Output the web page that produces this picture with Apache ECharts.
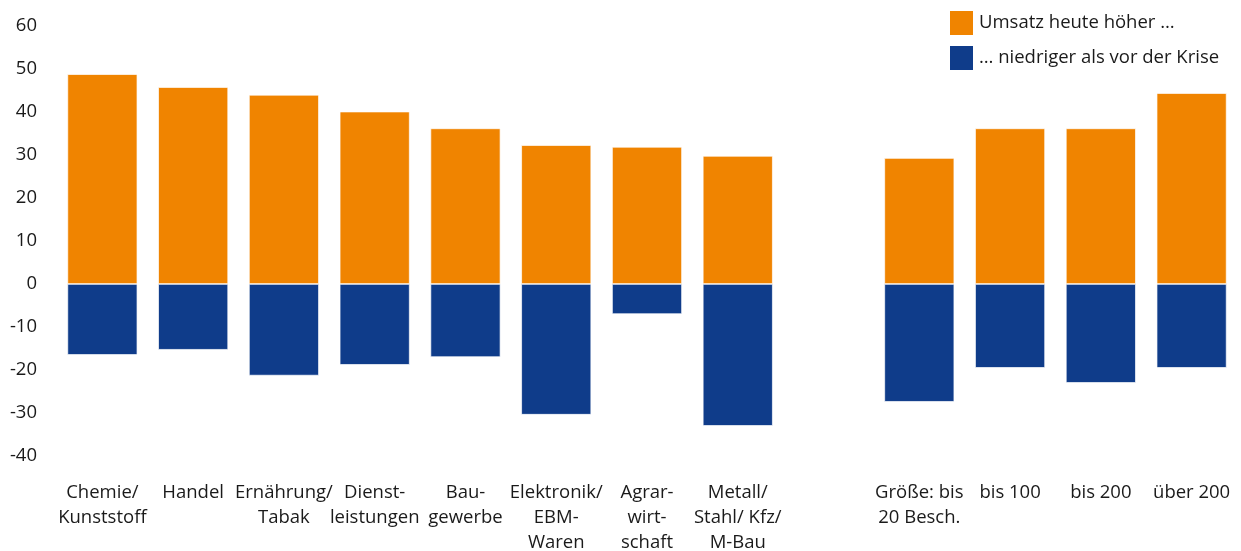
<!DOCTYPE html>
<html><head><meta charset="utf-8">
<script src="https://cdn.jsdelivr.net/npm/echarts@6/dist/echarts.min.js"></script>
<style>html,body{margin:0;padding:0;background:#fff}#c{width:1241px;height:551px}</style>
</head><body><div id="c"></div>
<script>
const categories = ['Chemie/\nKunststoff','Handel','Ernährung/\nTabak','Dienst-\nleistungen','Bau-\ngewerbe','Elektronik/\nEBM-\nWaren','Agrar-\nwirt-\nschaft','Metall/\nStahl/ Kfz/\nM-Bau','','Größe: bis\n20 Besch.','bis 100','bis 200','über 200'];
const higher = [48.8, 45.8, 44.0, 40.1, 36.2, 32.3, 31.9, 29.8, null, 29.3, 36.2, 36.2, 44.4];
const lower = [-16.5, -15.3, -21.3, -18.8, -17.0, -30.4, -7.0, -33.0, null, -27.4, -19.5, -23.0, -19.5];
const seriesNames = ['Umsatz heute höher …', '… niedriger als vor der Krise'];
const yTicks = [-40, 60, 10];

const font = '"Open Sans", "Noto Sans", sans-serif';
const fs = 18.5;
const chart = echarts.init(document.getElementById('c'), null, {renderer:'canvas'});
chart.setOption({
  animation: false,
  grid: {left: 57, right: 4, top: 26, bottom: 95, outerBoundsMode: 'none', containLabel: false},
  legend: {
    orient: 'vertical', left: 948, top: 9, padding: 0,
    itemWidth: 25, itemHeight: 26, itemGap: 7,
    icon: 'rect',
    textStyle: {fontFamily: font, fontSize: fs, color: '#1a1a1a'},
    data: seriesNames
  },
  xAxis: {
    type: 'category', data: categories,
    axisLine: {show: false}, axisTick: {show: false},
    axisLabel: {interval: 0, margin: 24, fontFamily: font, fontSize: fs, color: '#1a1a1a', lineHeight: 25, verticalAlign: 'top'}
  },
  yAxis: {
    type: 'value', min: yTicks[0], max: yTicks[1], interval: yTicks[2],
    splitLine: {show: false}, axisLine: {show: false}, axisTick: {show: false},
    axisLabel: {margin: 20, fontFamily: font, fontSize: fs, color: '#1a1a1a'}
  },
  series: [
    {name: seriesNames[0], type: 'bar', stack: 's', data: higher, barWidth: 70,
     itemStyle: {color: '#F08400', borderColor: '#fff', borderWidth: 0.7}},
    {name: seriesNames[1], type: 'bar', stack: 's', data: lower, barWidth: 70,
     itemStyle: {color: '#0F3C8A', borderColor: '#fff', borderWidth: 0.7}}
  ]
});
</script></body></html>
